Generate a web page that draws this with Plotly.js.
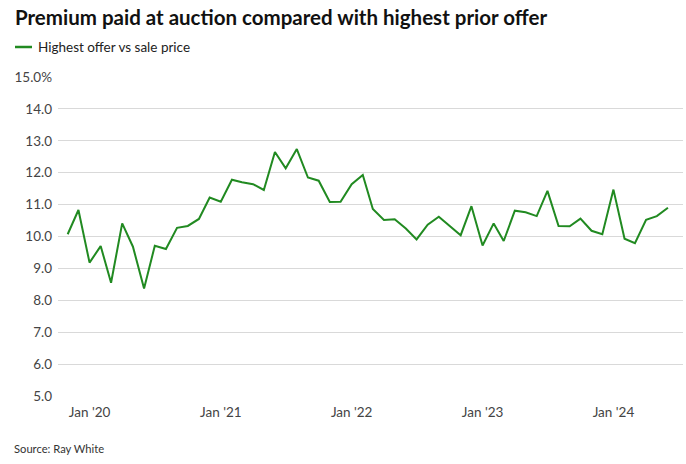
<!DOCTYPE html>
<html>
<head>
<meta charset="utf-8">
<script src="https://cdn.plot.ly/plotly-3.0.1.min.js"></script>
<style>
  html, body { margin: 0; padding: 0; background: #ffffff; }
  #chart { width: 686px; height: 464px; }
</style>
</head>
<body>
<div id="chart"></div>
<script>
// ---- Data ----
const months = [
  "2019-11-01","2019-12-01",
  "2020-01-01","2020-02-01","2020-03-01","2020-04-01","2020-05-01","2020-06-01",
  "2020-07-01","2020-08-01","2020-09-01","2020-10-01","2020-11-01","2020-12-01",
  "2021-01-01","2021-02-01","2021-03-01","2021-04-01","2021-05-01","2021-06-01",
  "2021-07-01","2021-08-01","2021-09-01","2021-10-01","2021-11-01","2021-12-01",
  "2022-01-01","2022-02-01","2022-03-01","2022-04-01","2022-05-01","2022-06-01",
  "2022-07-01","2022-08-01","2022-09-01","2022-10-01","2022-11-01","2022-12-01",
  "2023-01-01","2023-02-01","2023-03-01","2023-04-01","2023-05-01","2023-06-01",
  "2023-07-01","2023-08-01","2023-09-01","2023-10-01","2023-11-01","2023-12-01",
  "2024-01-01","2024-02-01","2024-03-01","2024-04-01","2024-05-01","2024-06-01"
];
const premiumPct = [
  10.07, 10.83,
  9.18, 9.70, 8.55, 10.41, 9.68, 8.37,
  9.71, 9.61, 10.27, 10.33, 10.55, 11.22,
  11.09, 11.78, 11.70, 11.64, 11.46, 12.65,
  12.14, 12.74, 11.85, 11.75, 11.08, 11.09,
  11.64, 11.93, 10.86, 10.52, 10.54, 10.25,
  9.91, 10.37, 10.62, 10.33, 10.04, 10.95,
  9.72, 10.41, 9.86, 10.81, 10.76, 10.64,
  11.43, 10.33, 10.32, 10.56, 10.18, 10.07,
  11.47, 9.93, 9.79, 10.52, 10.64, 10.90
];
const seriesName = "Highest offer vs sale price";
const chartTitle = "Premium paid at auction compared with highest prior offer";
const sourceText = "Source: Ray White";
const yTickVals = [5, 6, 7, 8, 9, 10, 11, 12, 13, 14, 15];
const yTickText = ["5.0", "6.0", "7.0", "8.0", "9.0", "10.0", "11.0", "12.0", "13.0", "14.0", "15.0%"];
const xTickVals = ["2020-01-01", "2021-01-01", "2022-01-01", "2023-01-01", "2024-01-01"];
const xTickText = ["Jan '20", "Jan '21", "Jan '22", "Jan '23", "Jan '24"];

// ---- Styling ----
const GREEN = "#218a21";
const baseFont = "Lato, Liberation Sans, Arial, sans-serif";

const W = 686, H = 464;
const M = { l: 58, r: 3, t: 77, b: 68 };
const plotW = W - M.l - M.r, plotH = H - M.t - M.b;
const px2paperX = px => (px - M.l) / plotW;
const px2paperY = py => (H - M.b - py) / plotH;

const trace = {
  type: "scatter",
  mode: "lines",
  x: months,
  y: premiumPct,
  name: seriesName,
  line: { color: GREEN, width: 2 },
  hoverinfo: "skip"
};

const layout = {
  width: W,
  height: H,
  margin: M,
  paper_bgcolor: "#ffffff",
  plot_bgcolor: "#ffffff",
  showlegend: false,
  font: { family: baseFont, size: 13, color: "#444444" },
  title: {
    text: chartTitle,
    font: { family: baseFont, size: 20.5, weight: "bold", color: "#111111" },
    xref: "container", yref: "container",
    x: 15 / W, xanchor: "left",
    y: 1 - 18 / H, yanchor: "middle",
    pad: { t: 0, b: 0, l: 0, r: 0 }
  },
  xaxis: {
    type: "date",
    range: ["2019-10-05", "2024-07-13"],
    tickvals: xTickVals,
    ticktext: xTickText,
    showgrid: false,
    zeroline: false,
    showline: false,
    ticks: "",
    ticklabelstandoff: 6,
    tickfont: { family: baseFont, size: 13.5, color: "#444444" },
    fixedrange: true
  },
  yaxis: {
    range: [5, 15],
    tickvals: yTickVals,
    ticktext: yTickText,
    showgrid: true,
    gridcolor: "#d9d9d9",
    gridwidth: 1,
    zeroline: false,
    showline: false,
    ticks: "",
    ticklabelstandoff: 5,
    tickfont: { family: baseFont, size: 13.5, color: "#444444" },
    fixedrange: true
  },
  shapes: [
    {
      type: "line", xref: "paper", yref: "paper",
      x0: px2paperX(15), x1: px2paperX(32),
      y0: px2paperY(47), y1: px2paperY(47),
      line: { color: GREEN, width: 2.5 }
    }
  ],
  annotations: [
    {
      text: seriesName,
      xref: "paper", yref: "paper",
      x: px2paperX(36), y: px2paperY(47),
      xanchor: "left", yanchor: "middle",
      showarrow: false,
      font: { family: baseFont, size: 13.5, color: "#222222" }
    },
    {
      text: sourceText,
      xref: "paper", yref: "paper",
      x: px2paperX(12), y: px2paperY(448),
      xanchor: "left", yanchor: "middle",
      showarrow: false,
      font: { family: baseFont, size: 11.2, color: "#333333" }
    }
  ]
};

Plotly.newPlot("chart", [trace], layout, { displayModeBar: false, staticPlot: true });
</script>
</body>
</html>
